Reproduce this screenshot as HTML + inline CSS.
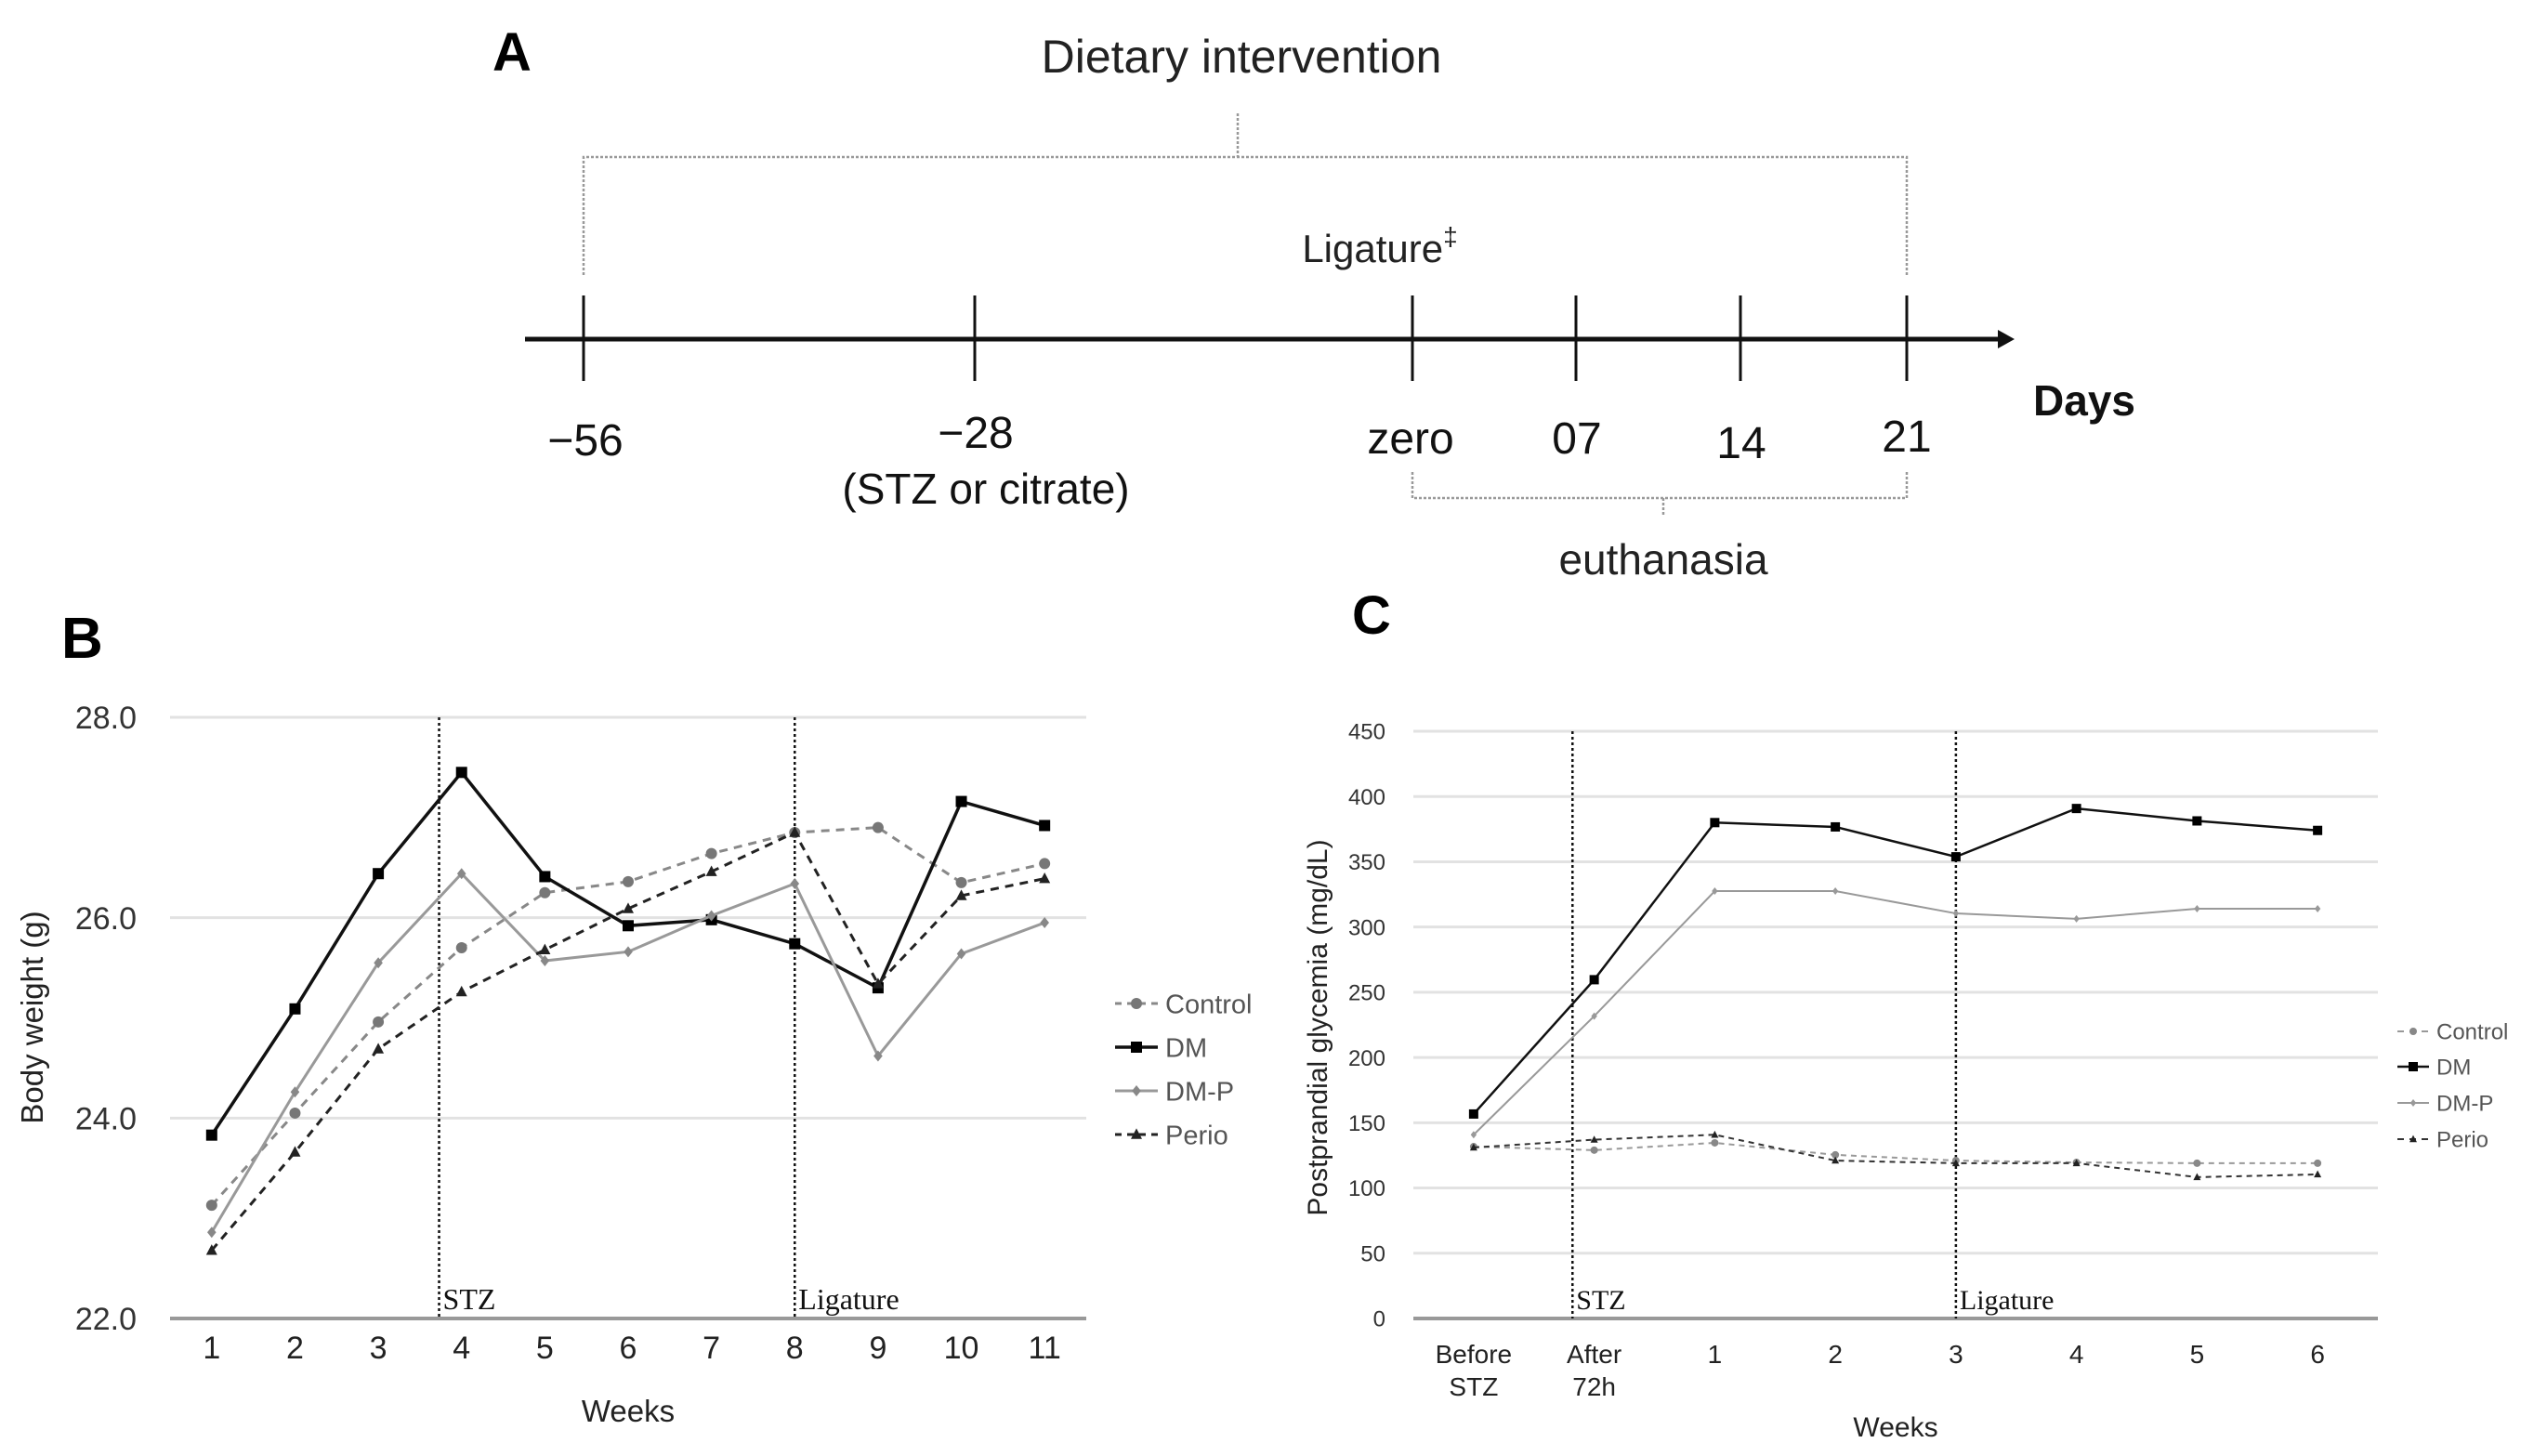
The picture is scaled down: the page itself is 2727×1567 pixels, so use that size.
<!DOCTYPE html>
<html><head><meta charset="utf-8"><style>
html,body{margin:0;padding:0;background:#fff;}
svg{display:block;}
text{font-family:"Liberation Sans",sans-serif;}
.narrow{font-family:"Liberation Sans Narrow","Liberation Sans",sans-serif;}
.serif{font-family:"Liberation Serif",serif;}
</style></head><body>
<svg id="fig" width="2727" height="1567" viewBox="0 0 2727 1567" xmlns="http://www.w3.org/2000/svg">
<g id="panelA">
 <text x="530" y="76" font-size="58" font-weight="bold">A</text>
 <text class="narrow" x="1336" y="78" font-size="50" text-anchor="middle" fill="#222">Dietary intervention</text>
 <path d="M628 296 V169 H2052 V296 M1332 122 V169" fill="none" stroke="#999" stroke-width="2.5" stroke-dasharray="3,2"/>
 <text class="narrow" x="1485" y="282" font-size="42" text-anchor="middle" fill="#222">Ligature<tspan font-size="28" dy="-18">‡</tspan></text>
 <line x1="565" y1="365" x2="2155" y2="365" stroke="#111" stroke-width="5"/>
 <polygon points="2150,355 2168,365 2150,375" fill="#111"/>
 <g stroke="#111" stroke-width="3">
  <line x1="628" y1="318" x2="628" y2="410"/><line x1="1049" y1="318" x2="1049" y2="410"/>
  <line x1="1520" y1="318" x2="1520" y2="410"/><line x1="1696" y1="318" x2="1696" y2="410"/>
  <line x1="1873" y1="318" x2="1873" y2="410"/><line x1="2052" y1="318" x2="2052" y2="410"/>
 </g>
 <g class="narrow" font-size="48" text-anchor="middle" fill="#111">
  <text x="630" y="490">−56</text><text x="1050" y="482">−28</text>
  <text x="1518" y="488">zero</text><text x="1697" y="488">07</text>
  <text x="1874" y="493">14</text><text x="2052" y="486">21</text>
 </g>
 <text class="narrow" x="1061" y="542" font-size="46" text-anchor="middle" fill="#111">(STZ or citrate)</text>
 <text class="narrow" x="2243" y="447" font-size="46" font-weight="bold" text-anchor="middle" fill="#111">Days</text>
 <path d="M1520 508 V536 H2052 V508 M1790 536 V556" fill="none" stroke="#999" stroke-width="2.5" stroke-dasharray="3,2"/>
 <text class="narrow" x="1790" y="618" font-size="46" text-anchor="middle" fill="#222">euthanasia</text>
</g>
<text x="66" y="708" font-size="62" font-weight="bold">B</text>
<text x="1455" y="682" font-size="58" font-weight="bold">C</text>
<g id="chartB"></g>
<g id="chartC"></g>
</svg>
<script>
// ---- Chart B data ----
const bCategories = ["1","2","3","4","5","6","7","8","9","10","11"];
const bControl = [23.13,24.05,24.96,25.70,26.25,26.36,26.64,26.85,26.90,26.35,26.54];
const bDM      = [23.83,25.09,26.44,27.45,26.41,25.92,25.98,25.74,25.30,27.16,26.92];
const bDMP     = [22.86,24.26,25.55,26.44,25.57,25.66,26.02,26.34,24.62,25.64,25.95];
const bPerio   = [22.68,23.66,24.69,25.26,25.68,26.09,26.46,26.85,25.34,26.22,26.39];
const bTicks = [22,24,26,28];
const bTickLabels = ["22.0","24.0","26.0","28.0"];
const bEvents = [2.73, 7.0];
const bEventLabels = ["STZ","Ligature"];
// ---- Chart C data ----
const cCategories = [["Before","STZ"],["After","72h"],["1"],["2"],["3"],["4"],["5"],["6"]];
const cControl = [131.7,129,134.6,125.4,121,119.6,119,119];
const cDM      = [156.7,259.6,380,376.7,353.8,390.8,381.3,374];
const cDMP     = [140.8,231.7,327.5,327.5,310.4,306.3,314,314];
const cPerio   = [131,137,140.8,121,119,119,108.3,110.4];
const cTicks = [0,50,100,150,200,250,300,350,400,450];
const cEvents = [0.82, 4.0];
const cEventLabels = ["STZ","Ligature"];
const seriesNames = ["Control","DM","DM-P","Perio"];

const NS="http://www.w3.org/2000/svg";
function mk(parent,tag,attrs,txt){const e=document.createElementNS(NS,tag);for(const k in attrs)e.setAttribute(k,attrs[k]);if(txt!==undefined)e.textContent=txt;parent.appendChild(e);return e;}

function marker(g,kind,x,y,s,color){
  let m;
  if(kind==="square") m=mk(g,"rect",{x:x-s,y:y-s,width:2*s,height:2*s,fill:color});
  else if(kind==="circle") m=mk(g,"circle",{cx:x,cy:y,r:s,fill:color});
  else if(kind==="diamond") m=mk(g,"polygon",{points:`${x},${y-s} ${x+s*0.8},${y} ${x},${y+s} ${x-s*0.8},${y}`,fill:color});
  else m=mk(g,"polygon",{points:`${x},${y-s*1.1} ${x+s},${y+s*0.8} ${x-s},${y+s*0.8}`,fill:color});
  return m;
}

function drawChart(cfg){
  const root=document.getElementById(cfg.id);
  const n=cfg.cats.length, bw=(cfg.x1-cfg.x0)/n;
  const xS=i=>cfg.x0+bw*(i+0.5);
  const yS=v=>cfg.yb+(v-cfg.ymin)/(cfg.ymax-cfg.ymin)*(cfg.yt-cfg.yb);
  cfg.ticks.forEach((t,i)=>{
    const gl=mk(root,"line",{x1:cfg.x0,x2:cfg.x1,y1:yS(t),y2:yS(t),stroke:i===0?"#999":"#e2e2e2","stroke-width":i===0?4:3});
    
    
    const tl=mk(root,"text",{x:cfg.x0-cfg.ylabOff,y:yS(t)+cfg.yfs*0.36,"font-size":cfg.yfs,"text-anchor":"end",fill:"#333"},cfg.tickLabels?cfg.tickLabels[i]:String(t));
    
    
  });
  cfg.cats.forEach((c,i)=>{
    const lines=Array.isArray(c)?c:[c];
    lines.forEach((l,j)=>{
      const xl=mk(root,"text",{x:xS(i),y:cfg.xlabY+j*cfg.xfs*1.25,"font-size":cfg.xfs,"text-anchor":"middle",fill:"#222"},l);
      
      
    });
  });
  cfg.events.forEach((e,i)=>{
    const x=xS(e);
    const vl=mk(root,"line",{x1:x,x2:x,y1:cfg.yt,y2:cfg.yb,stroke:"#111","stroke-width":2.5,"stroke-dasharray":"3,3"});
    
    
    const et=mk(root,"text",{x:x+4,y:cfg.yb-10,"font-size":cfg.efs,fill:"#111",class:"serif"},cfg.eventLabels[i]);
    
    
  });
  cfg.series.forEach(s=>{
    const g=mk(root,"g",{});
    
    
    const pts=s.vals.map((v,i)=>xS(i)+","+yS(v)).join(" ");
    const pl=mk(g,"polyline",{points:pts,fill:"none",stroke:s.color,"stroke-width":s.w,"stroke-dasharray":s.dash||"none"});
    
    
    s.vals.forEach((v,i)=>{
      const m=marker(g,s.marker,xS(i),yS(v),s.ms,s.mcolor);
      
      
    });
  });
  const lg=mk(root,"g",{});
  
  
  cfg.series.forEach((s,i)=>{
    const y=cfg.legY[i];
    const e=mk(lg,"g",{});
    
    
    mk(e,"line",{x1:cfg.legX,x2:cfg.legX+cfg.legW,y1:y,y2:y,stroke:s.color,"stroke-width":s.w,"stroke-dasharray":s.dash?"7,6":"none"});
    marker(e,s.marker,cfg.legX+cfg.legW/2,y,s.ms,s.mcolor);
    mk(e,"text",{x:cfg.legX+cfg.legW+8,y:y+cfg.lfs*0.36,"font-size":cfg.lfs,fill:"#555"},s.name);
  });
  const xt=mk(root,"text",{x:cfg.xtX,y:cfg.xtY,"font-size":cfg.tfs,"text-anchor":"middle",fill:"#222"},"Weeks");
  
  
  const yt=mk(root,"text",{x:0,y:0,"font-size":cfg.tfs,"text-anchor":"middle",fill:"#222",transform:`translate(${cfg.ytX},${cfg.ytY}) rotate(-90)`},cfg.ytitle);
  
  
}

drawChart({id:"chartB",cats:bCategories,x0:183,x1:1169,yb:1419,yt:772,ymin:22,ymax:28,
  ticks:bTicks,tickLabels:bTickLabels,ylabOff:36,yfs:34,xlabY:1462,xfs:34,
  events:bEvents,eventLabels:bEventLabels,efs:32,
  series:[
   {name:"Control",vals:bControl,color:"#888",w:3,dash:"9,7",marker:"circle",ms:6,mcolor:"#777"},
   {name:"DM",vals:bDM,color:"#111",w:3.5,marker:"square",ms:6,mcolor:"#000"},
   {name:"DM-P",vals:bDMP,color:"#999",w:3,marker:"diamond",ms:6,mcolor:"#888"},
   {name:"Perio",vals:bPerio,color:"#222",w:3,dash:"9,7",marker:"triangle",ms:6,mcolor:"#222"}],
  legX:1200,legW:46,legY:[1080,1127,1174,1221],lfs:29,
  xtX:676,xtY:1530,tfs:33,ytX:46,ytY:1095,ytitle:"Body weight (g)"});

drawChart({id:"chartC",cats:cCategories,x0:1521,x1:2559,yb:1419,yt:787,ymin:0,ymax:450,
  ticks:cTicks,ylabOff:30,yfs:24,xlabY:1467,xfs:28,
  events:cEvents,eventLabels:cEventLabels,efs:30,
  series:[
   {name:"Control",vals:cControl,color:"#999",w:2,dash:"6,5",marker:"circle",ms:4,mcolor:"#888"},
   {name:"DM",vals:cDM,color:"#111",w:2.5,marker:"square",ms:5,mcolor:"#000"},
   {name:"DM-P",vals:cDMP,color:"#999",w:2,marker:"diamond",ms:4,mcolor:"#999"},
   {name:"Perio",vals:cPerio,color:"#333",w:2,dash:"6,5",marker:"triangle",ms:4,mcolor:"#222"}],
  legX:2580,legW:34,legY:[1110,1148,1187,1226],lfs:24,
  xtX:2040,xtY:1546,tfs:30,ytX:1428,ytY:1106,ytitle:"Postprandial  glycemia (mg/dL)"});
</script>
</body></html>
